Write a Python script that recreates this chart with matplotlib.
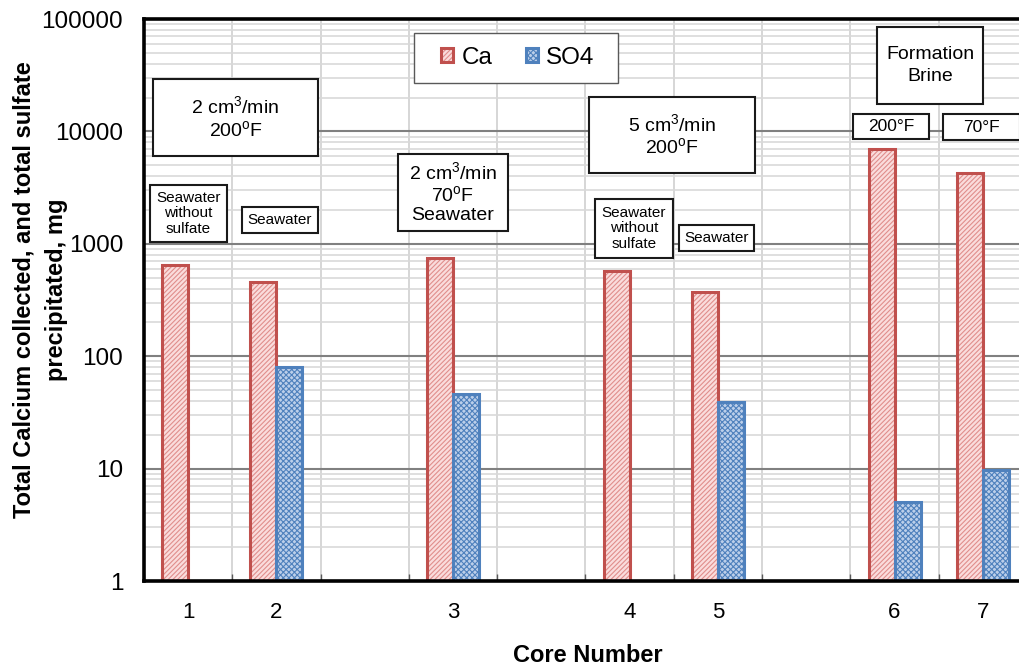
import numpy as np
import matplotlib
matplotlib.use('Agg')
import matplotlib.pyplot as plt
from matplotlib.patches import Rectangle
from matplotlib.ticker import LogLocator, NullFormatter, FuncFormatter

# ---------------- data ----------------
categories = ['1', '2', '', '3', '', '4', '5', '', '6', '7']
ca_mg = [648, 454, np.nan, 752, np.nan, 575, 373, np.nan, 6970, 4280]
so4_mg = [np.nan, 79.7, np.nan, 46.1, np.nan, np.nan, 38.9, np.nan, 5.0, 9.7]
series_names = ['Ca', 'SO4']

# ---------------- style ----------------
plt.rcParams['font.family'] = ['Liberation Sans', 'DejaVu Sans']
plt.rcParams['mathtext.fontset'] = 'custom'
plt.rcParams['mathtext.rm'] = 'Liberation Sans'
plt.rcParams['mathtext.it'] = 'Liberation Sans:italic'
plt.rcParams['mathtext.bf'] = 'Liberation Sans:bold'
plt.rcParams['hatch.linewidth'] = 0.8

W, H = 1020, 670
fig = plt.figure(figsize=(W / 100, H / 100), dpi=100)


def fx(px):
    return px / W


def fy(py):
    return 1 - py / H


ax = fig.add_axes([fx(144), fy(581), fx(1027) - fx(144), fy(19) - fy(581)])
x = np.arange(len(categories))
bw = 0.295
ax.set_yscale('log')
ax.set_xlim(-0.5, len(categories) - 0.5)
ax.set_ylim(1, 1e5)

ca_fill = ax.bar(x, ca_mg, width=-bw, align='edge', facecolor='#FADCDC',
                 edgecolor='#E08E8C', hatch='///////', linewidth=0, zorder=2)
ca_edge = ax.bar(x, ca_mg, width=-bw, align='edge', fill=False,
                 edgecolor='#C0504D', linewidth=2.2, zorder=2.1)
so4_fill = ax.bar(x, so4_mg, width=bw, align='edge', facecolor='#BCCFEA',
                  edgecolor='#4F81BD', hatch='xxxxxx', linewidth=0, zorder=2)
so4_edge = ax.bar(x, so4_mg, width=bw, align='edge', fill=False,
                  edgecolor='#4F81BD', linewidth=2.2, zorder=2.1)

# ticks & grid
ax.set_xticks(x)
ax.set_xticklabels(categories)
ax.tick_params(axis='x', which='major', length=0, pad=15, labelsize=16)
ax.set_xticks(np.arange(-0.5, len(categories) + 0.5, 1), minor=True)
ax.tick_params(axis='x', which='minor', direction='in', length=5,
               color='#595959', width=1)
ax.yaxis.set_major_locator(LogLocator(base=10, numticks=10))
ax.yaxis.set_minor_locator(LogLocator(base=10, subs=np.arange(2, 10), numticks=20))
ax.yaxis.set_major_formatter(FuncFormatter(lambda v, p: f'{v:.0f}'))
ax.yaxis.set_minor_formatter(NullFormatter())
ax.tick_params(axis='y', which='both', length=0, pad=15, labelsize=17.5)
ax.set_axisbelow(True)
ax.grid(axis='x', which='minor', color='#D0D0D0', lw=1.2)
ax.grid(axis='x', which='major', visible=False)
ax.grid(axis='y', which='major', color='#808080', lw=1.5)
ax.grid(axis='y', which='minor', color='#D9D9D9', lw=1.2)

for s in ['left', 'bottom', 'top']:
    ax.spines[s].set_linewidth(2.6)
    ax.spines[s].set_color('black')
ax.spines['right'].set_visible(False)

# legend (frame drawn separately to match the wide, flat box)
ax.add_patch(Rectangle((fx(414), fy(83)), fx(618) - fx(414), fy(33) - fy(83),
                       transform=fig.transFigure, facecolor='white',
                       edgecolor='#595959', linewidth=1.0, zorder=4.9,
                       clip_on=False))
leg = ax.legend([(ca_fill, ca_edge), (so4_fill, so4_edge)], series_names,
                ncol=2, loc='center', bbox_to_anchor=(fx(518), fy(58)),
                bbox_transform=fig.transFigure, fontsize=17.5, frameon=False,
                handlelength=0.5, handleheight=0.5, handletextpad=0.35,
                columnspacing=1.35, borderpad=0.2)
leg.set_zorder(5)


# annotation boxes
def box(x0, y0, x1, y1, txt, size, ls=1.15):
    fig.add_artist(Rectangle((fx(x0), fy(y1)), fx(x1) - fx(x0), fy(y0) - fy(y1),
                             transform=fig.transFigure, facecolor='white',
                             edgecolor='#1a1a1a', linewidth=1.5, zorder=5))
    fig.text(fx((x0 + x1) / 2), fy((y0 + y1) / 2), txt, ha='center', va='center',
             fontsize=size, zorder=6, linespacing=ls)


box(153, 79, 318, 156, '2 cm$^3$/min\n200$^{\\mathrm{o}}$F', 14)
box(150, 185, 227, 242, 'Seawater\nwithout\nsulfate', 11)
box(242, 207, 318, 233, 'Seawater', 11)
box(398, 154, 508, 231, '2 cm$^3$/min\n70$^{\\mathrm{o}}$F\nSeawater', 14)
box(589, 97, 755, 173, '5 cm$^3$/min\n200$^{\\mathrm{o}}$F', 14)
box(595, 199, 673, 258, 'Seawater\nwithout\nsulfate', 11)
box(679, 225, 754, 251, 'Seawater', 11)
box(877, 27, 983, 104, 'Formation\nBrine', 14, ls=1.35)
box(853, 114, 929, 139, '200°F', 12.5)
box(943, 114, 1020, 140, '70°F', 12.5)

# axis titles (y title set as its two centred lines)
ylabel_lines = ['Total Calcium collected, and total sulfate', 'precipitated, mg']
for lx, line in zip([24, 57], ylabel_lines):
    fig.text(fx(lx), fy(290), line, rotation=90, ha='center', va='center',
             fontsize=17, fontweight='bold')
fig.text(fx(588), fy(656), 'Core Number', fontsize=17, fontweight='bold',
         ha='center', va='center')

fig.savefig('out.png', dpi=100)
